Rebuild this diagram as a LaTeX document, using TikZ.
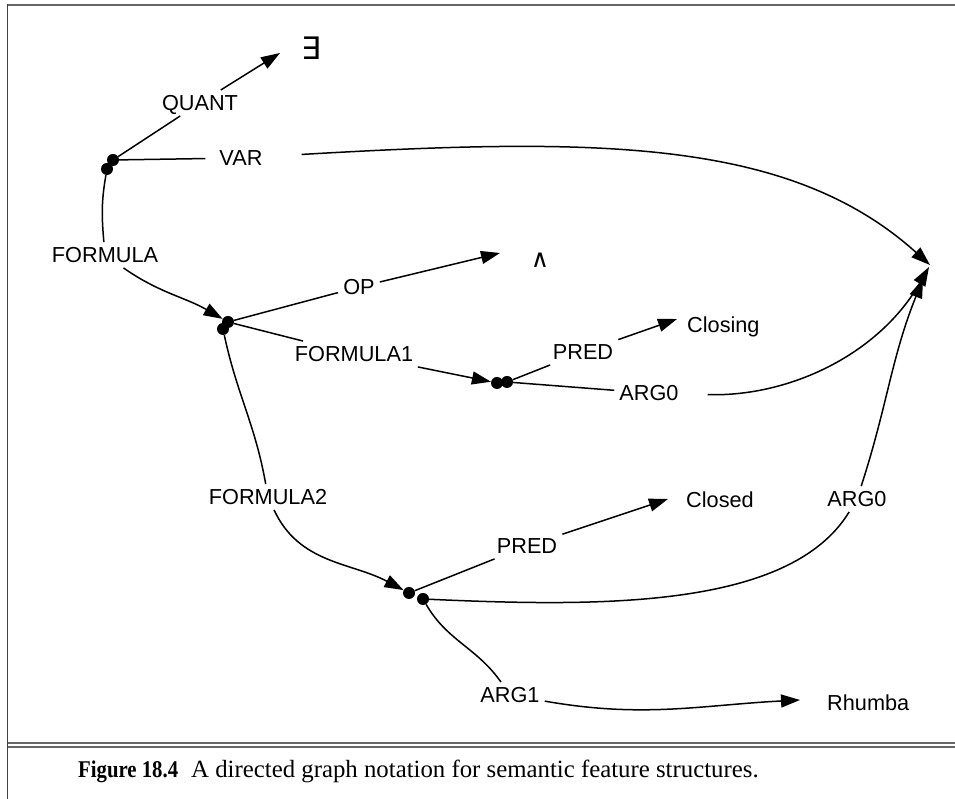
\documentclass[tikz,border=0pt]{standalone}
\usepackage{fontspec}
\usepackage{graphicx}
\setmainfont{Liberation Sans}
\newfontfamily\capfont{Liberation Serif}
\newfontfamily\symfont{DejaVu Sans}
\usetikzlibrary{arrows.meta}
\begin{document}
\begin{tikzpicture}[x=1pt,y=1pt,
  dot/.style={circle,fill=black,inner sep=0pt,minimum size=12pt},
  lbl/.style={font=\fontsize{21.7}{26}\selectfont, inner sep=5pt, text height=15.5pt, text depth=0pt},
  val/.style={font=\fontsize{21.7}{26}\selectfont, inner sep=0pt, anchor=base west},
  sym/.style={font=\symfont\fontsize{25}{30}\selectfont, inner sep=0pt},
  edge/.style={line width=1.5pt},
  arr/.style={edge,-{Triangle[length=19pt,width=13pt]}},
  frame/.style={draw=black!60, line width=1.6pt},
  capstyle/.style={anchor=base west, inner sep=0pt},
]
\useasboundingbox (0,0) rectangle (955,799);
% frame
\draw[frame] (7.5,794) -- (955,794);
\draw[draw=black!75, line width=1.1pt] (7.5,794.8) -- (7.5,0);
\draw[frame] (7.5,56) -- (955,56);
\draw[frame] (7.5,52) -- (955,52);

% feature structure nodes
\node[dot] (n1a) at (113,639) {};
\node[dot] (n1b) at (107,630) {};
\node[dot] (n2a) at (228,477) {};
\node[dot] (n2b) at (223,470) {};
\node[dot] (n3a) at (497,416) {};
\node[dot] (n3b) at (507,417) {};
\node[dot] (n4a) at (409,206) {};
\node[dot] (n4b) at (423,200) {};

% labels
\node[lbl] (lq) at (200,696) {QUANT};
\node[lbl] (lv) at (241,641) {VAR};
\node[lbl] (lf) at (105,544) {FORMULA};
\node[lbl] (lop) at (359,512) {OP};
\node[lbl] (lf1) at (354,445) {FORMULA1};
\node[lbl] (lp1) at (583,447) {PRED};
\node[lbl] (la1) at (649,406) {ARG0};
\node[lbl] (lf2) at (268,302) {FORMULA2};
\node[lbl] (lp2) at (527,253) {PRED};
\node[lbl] (la2) at (857,300) {ARG0};
\node[lbl] (la3) at (510,104) {ARG1};

% values
\node[sym, font=\symfont\fontsize{31}{36}\selectfont] (ex) at (311,751) {∃};
\node[sym] (wedge) at (540,539) {∧};
\node[val] (closing) at (687,466.5) {Closing};
\node[val] (closed) at (686,291) {Closed};
\node[val] (rhumba) at (827,88) {Rhumba};

% arrow tips
\coordinate (tq) at (280,746);
\coordinate (top) at (500,546);
\coordinate (tp1) at (677,480);
\coordinate (tp2) at (668,300);
\coordinate (ta1) at (800,99);
\coordinate (cv) at (930,534);
\coordinate (c2) at (929,532);
\coordinate (c3) at (923,520);

% edges
\draw[edge] (n1a) -- (lq);
\draw[arr] (lq) -- (tq);
\draw[edge, shorten >=9pt] (n1a) -- (lv);
\draw[arr, shorten <=34pt] (lv) .. controls (600,662) and (790,660) .. (cv);
\draw[edge] (n1b) to[out=-100,in=95] (lf);
\draw[arr] (lf) to[out=-35,in=150] (n2a);
\draw[edge] (n2a) -- (lop);
\draw[arr] (lop) -- (top);
\draw[edge] (n2a) -- (lf1);
\draw[arr] (lf1) -- (n3a);
\draw[edge] (n3b) -- (lp1);
\draw[arr] (lp1) -- (tp1);
\draw[edge] (n3b) -- (la1);
\draw[arr, shorten <=24pt] (la1) .. controls (790,402) and (879,445) .. (c2);
\draw[edge] (n2b) to[out=-78,in=100] (lf2);
\draw[arr] (lf2) to[out=-65,in=152] (n4a);
\draw[edge] (n4a) -- (lp2);
\draw[arr] (lp2) -- (tp2);
\draw[edge] (n4b) .. controls (600,192) and (790,190) .. (la2);
\draw[arr] (la2) to[out=72,in=-112] (c3);
\draw[edge] (n4b) to[out=-60,in=125] (la3);
\draw[arr] (la3) to[out=-10,in=183] (ta1);

% caption
\node[capstyle, font=\capfont\bfseries\fontsize{24}{28}\selectfont] (figno) at (78,21) {\scalebox{0.865}[1]{Figure 18.4}};
\node[capstyle, font=\capfont\fontsize{24.8}{29}\selectfont] (captext) at (191,21) {A directed graph notation for semantic feature structures.};
\end{tikzpicture}
\end{document}
